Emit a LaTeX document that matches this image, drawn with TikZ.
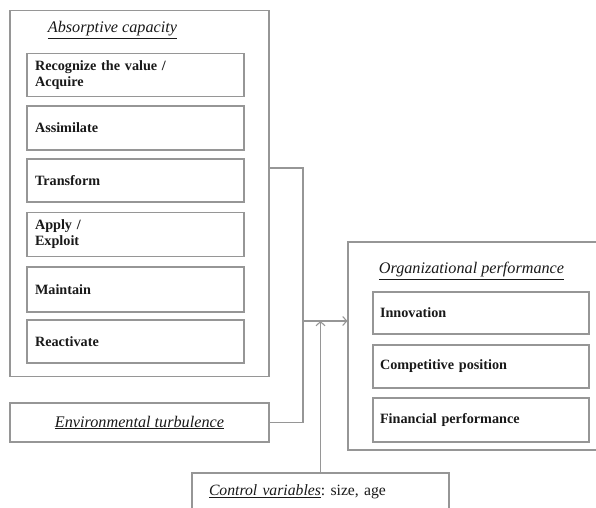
\documentclass[tikz,border=0pt]{standalone}
\usepackage{fontspec}
\setmainfont{Liberation Serif}
\usetikzlibrary{arrows.meta}
\definecolor{linegray}{RGB}{150,150,150}
\definecolor{textdark}{RGB}{25,25,25}
\frenchspacing
\begin{document}
\begin{tikzpicture}[x=1pt,y=-1pt,>={Straight Barb[length=4pt,width=9pt]},
    line width=1.1pt,
    frame/.style={draw=linegray,line width=1.1pt,inner sep=0pt},
    stage box/.style={draw=linegray,line width=1.1pt,minimum height=43pt,text width=201pt,inner xsep=8pt,
        align=left,font=\fontsize{14.2}{16}\selectfont\bfseries,text=textdark},
    title/.style={font=\fontsize{16.2}{18}\selectfont\itshape,text=textdark},
    link/.style={draw=linegray,line width=1.1pt}]
    \clip (0,0) rectangle (596,507);

    \node[frame,minimum width=259pt,minimum height=366pt] at (139.5,193.5) (ac) {};
    \node[title] at (112.5,30) (actitle) {\underline{Absorptive capacity}};
    \node[stage box] at (135.5,75) (recognize) {Recognize the value /\\Acquire};
    \node[stage box,minimum height=44pt] at (135.5,128) (assimilate) {Assimilate};
    \node[stage box] at (135.5,180.5) (transform) {Transform};
    \node[stage box,minimum height=44pt] at (135.5,234.5) (apply) {Apply /\\Exploit};
    \node[stage box,minimum height=45pt] at (135.5,289.5) (maintain) {Maintain};
    \node[stage box] at (135.5,341.5) (reactivate) {Reactivate};

    \node[frame,minimum width=259pt,minimum height=39pt,title] at (139.5,422.5) (env) {\underline{Environmental turbulence}\hspace{10pt}};

    \node[frame,minimum width=250pt,minimum height=208pt] at (473,346) (op) {};
    \node[title] at (471.5,271) (optitle) {\underline{Organizational performance}};
    \node[stage box,text width=202pt,inner xsep=7pt,minimum height=42pt] at (481,313) (innovation) {Innovation};
    \node[stage box,text width=202pt,inner xsep=7pt] at (481,366.5) (competitive) {Competitive position};
    \node[stage box,text width=202pt,inner xsep=7pt,minimum height=44pt] at (481,420) (financial) {Financial performance};

    \node[frame,minimum height=38pt,text width=223pt,inner xsep=17pt,align=left,
        font=\fontsize{15.7}{18}\selectfont,text=textdark] at (320.5,492) (ctrl) {\underline{\textit{Control variables}}: size, age};

    \coordinate (join) at (303,321);
    \path[link] ([yshift=25.5pt]ac.east) -| (join);
    \path[link] (env.east) -| (join);
    \path[link,->] (join) -- (op.west |- join);
    \path[link,->] (ctrl.north) -- (ctrl.north |- join);
\end{tikzpicture}
\end{document}
